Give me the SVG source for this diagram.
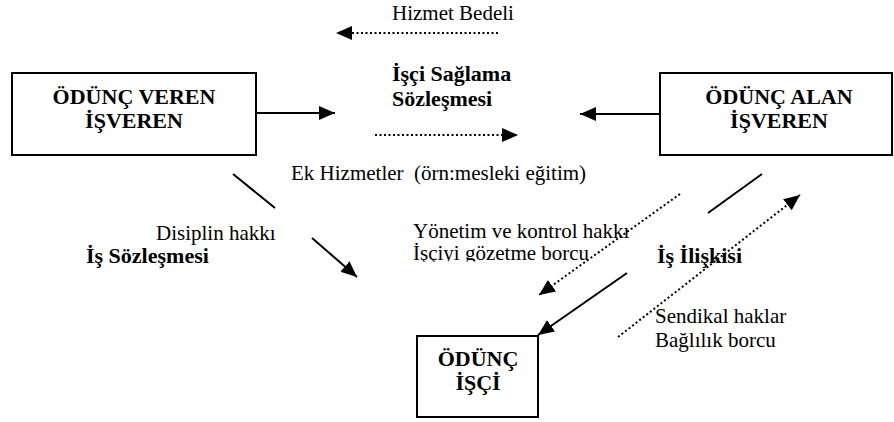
<svg xmlns="http://www.w3.org/2000/svg" width="894" height="422" viewBox="0 0 894 422">
  <style>
    .box { fill: #fff; stroke: #000; stroke-width: 2; }
    .title { font-family: "Liberation Serif", "Times New Roman", serif; font-size: 22px; font-weight: bold; fill: #000; text-anchor: middle; }
    .lbl { font-family: "Liberation Serif", "Times New Roman", serif; font-size: 21px; fill: #000; }
    .blbl { font-family: "Liberation Serif", "Times New Roman", serif; font-size: 22px; font-weight: bold; fill: #000; }
    .solid { stroke: #000; stroke-width: 2; fill: none; }
    .dot { stroke: #000; stroke-width: 2; fill: none; stroke-dasharray: 2 2.5; }
  </style>
  <defs>
    <marker id="ah" markerUnits="userSpaceOnUse" markerWidth="17" markerHeight="15" refX="16" refY="7" orient="auto">
      <path d="M0,0 L16,7 L0,14 z" fill="#000"/>
    </marker>
    <clipPath id="clipLine2">
      <rect x="400" y="240" width="230" height="21.5"/>
    </clipPath>
  </defs>
  <rect width="894" height="422" fill="#fff"/>

  <g id="connectors">
    <line class="solid" x1="256" y1="113" x2="335" y2="113" marker-end="url(#ah)"/>
    <line class="solid" x1="660" y1="114" x2="580" y2="114" marker-end="url(#ah)"/>
    <line class="dot" x1="498" y1="33" x2="336" y2="33" marker-end="url(#ah)"/>
    <line class="dot" x1="375" y1="135" x2="518" y2="135" marker-end="url(#ah)"/>
    <line class="solid" x1="233" y1="174" x2="275" y2="208"/>
    <line class="solid" x1="312" y1="238" x2="357" y2="277" marker-end="url(#ah)"/>
    <line class="dot" x1="680" y1="194" x2="539" y2="295" marker-end="url(#ah)"/>
    <line class="solid" x1="762" y1="174" x2="708" y2="213"/>
    <line class="solid" x1="627" y1="273" x2="538" y2="335" marker-end="url(#ah)"/>
    <line class="dot" x1="618" y1="337" x2="800" y2="195" marker-end="url(#ah)"/>
  </g>

  <g id="labels">
    <text class="lbl" x="392" y="20">Hizmet Bedeli</text>
    <text class="blbl" x="392" y="81">İşçi Sağlama</text>
    <text class="blbl" x="392" y="106">Sözleşmesi</text>
    <text class="lbl" x="291" y="180" xml:space="preserve">Ek Hizmetler  (örn:mesleki eğitim)</text>
    <text class="lbl" x="156" y="240">Disiplin hakkı</text>
    <text class="blbl" x="86" y="263">İş Sözleşmesi</text>
    <text class="lbl" x="413" y="238">Yönetim ve kontrol hakkı</text>
    <text class="lbl" x="413" y="260" clip-path="url(#clipLine2)">İşçiyi gözetme borcu</text>
    <text class="blbl" x="657" y="263">İş İlişkisi</text>
    <text class="lbl" x="655" y="323">Sendikal haklar</text>
    <text class="lbl" x="655" y="347">Bağlılık borcu</text>
  </g>

  <g id="odunc-veren">
    <rect class="box" x="12" y="73" width="244" height="82"/>
    <text class="title" x="134" y="104">ÖDÜNÇ VEREN</text>
    <text class="title" x="134" y="128">İŞVEREN</text>
  </g>

  <g id="odunc-alan">
    <rect class="box" x="660" y="73" width="232" height="82"/>
    <text class="title" x="779" y="104">ÖDÜNÇ ALAN</text>
    <text class="title" x="779" y="128">İŞVEREN</text>
  </g>

  <g id="odunc-isci">
    <rect class="box" x="417" y="336" width="121" height="81"/>
    <text class="title" x="478" y="366">ÖDÜNÇ</text>
    <text class="title" x="478" y="390">İŞÇİ</text>
  </g>
</svg>
